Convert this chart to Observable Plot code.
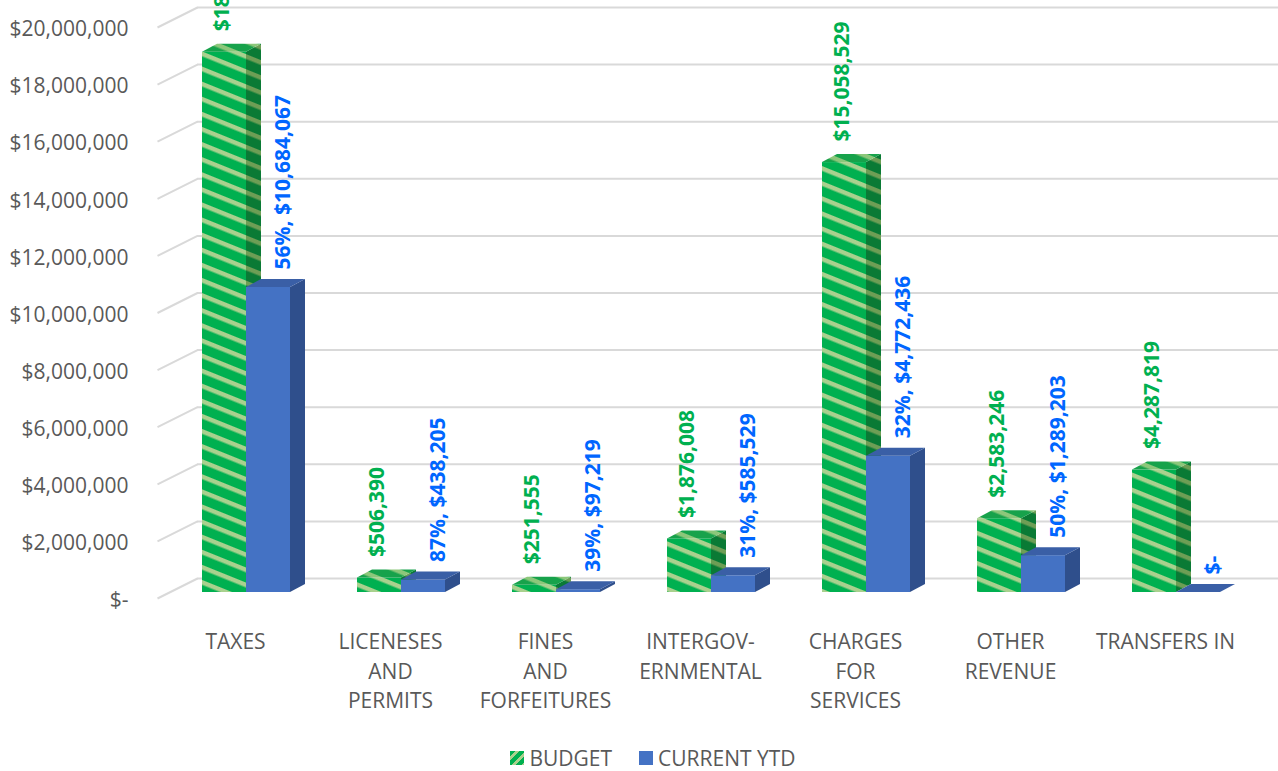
<!DOCTYPE html>
<html>
<head>
<meta charset="utf-8">
<script src="https://cdn.jsdelivr.net/npm/d3@7"></script>
<script src="https://cdn.jsdelivr.net/npm/@observablehq/plot@0.6"></script>
<style>
  html, body { margin: 0; padding: 0; background: #ffffff; }
  #wrap { position: relative; width: 1278px; height: 771px; overflow: hidden; font-family: "Open Sans", sans-serif; }
  #legend { position: absolute; left: 0; top: 744px; width: 1278px; box-sizing: border-box; padding-left: 28px;
            display: flex; justify-content: center; align-items: center; font-size: 21px; color: #595959; }
  .item { display: flex; align-items: center; }
  .item + .item { margin-left: 27px; }
  .sw { width: 14px; height: 14px; margin-right: 5px; }
</style>
</head>
<body>
<div id="wrap">
  <div id="chart"></div>
  <div id="legend"></div>
</div>
<script>
// ---------------- data ----------------
const categories = [
  "TAXES",
  "LICENESES\nAND\nPERMITS",
  "FINES\nAND\nFORFEITURES",
  "INTERGOV-\nERNMENTAL",
  "CHARGES\nFOR\nSERVICES",
  "OTHER\nREVENUE",
  "TRANSFERS IN"
];
const seriesNames = ["BUDGET", "CURRENT YTD"];
const budget     = [18925000, 506390, 251555, 1876008, 15058529, 2583246, 4287819];
const currentYTD = [10684067, 438205,  97219,  585529,  4772436, 1289203,       0];
const yTicks = [0, 2e6, 4e6, 6e6, 8e6, 10e6, 12e6, 14e6, 16e6, 18e6, 20e6];

// ---------------- layout / style ----------------
const W = 1278, H = 735;
const X_DOMAIN = [-0.5, categories.length - 0.5];
const X_RANGE = [168.5, 1253.5];
const Y_DOMAIN = [0, 20e6];
const Y_RANGE = [592, 21];
const xPerPx = (X_DOMAIN[1] - X_DOMAIN[0]) / (X_RANGE[1] - X_RANGE[0]);
const yPerPx = (Y_DOMAIN[1] - Y_DOMAIN[0]) / (Y_RANGE[0] - Y_RANGE[1]);
const barW = 44 * xPerPx;      // front face width
const depX = 15 * xPerPx;      // 3-D depth (horizontal)
const depY = 8 * yPerPx;       // 3-D depth (vertical)

const gridColor = "#d9d9d9";
const textColor = "#595959";
const greenLabel = "#00B050";
const blueLabel = "#0066FF";

const fmtMoney = v => v === 0 ? "$-" : "$" + d3.format(",")(v);

// build geometry from the data
function bars(values, s) {
  return values.map((v, i) => {
    const l = i - barW + s * barW;
    return { i, s, v, l, r: l + barW, cx: l + barW / 2, budget: budget[i] };
  });
}
const budgetBars = bars(budget, 0);
const currentBars = bars(currentYTD, 1);

function sides(rows) {
  const out = [];
  rows.forEach((d, k) => {
    out.push({ id: k, x: d.r,        y1: 0,    y2: d.v });
    out.push({ id: k, x: d.r + depX, y1: depY, y2: d.v + depY });
  });
  return out;
}
function tops(rows) {
  const out = [];
  rows.forEach((d, k) => {
    out.push({ id: k, x: d.l,        y1: d.v,        y2: d.v });
    out.push({ id: k, x: d.l + depX, y1: d.v,        y2: d.v + depY });
    out.push({ id: k, x: d.r,        y1: d.v,        y2: d.v + depY });
    out.push({ id: k, x: d.r + depX, y1: d.v + depY, y2: d.v + depY });
  });
  return out;
}

const chart = Plot.plot({
  width: W,
  height: H,
  marginLeft: 197,
  marginRight: 0,
  marginTop: 21,
  marginBottom: H - 592,
  style: { fontFamily: "Open Sans, sans-serif", fontSize: "21px", color: textColor, background: "#ffffff", overflow: "visible" },
  x: { type: "linear", domain: X_DOMAIN, range: X_RANGE, axis: null },
  y: { domain: Y_DOMAIN, range: Y_RANGE, axis: null, label: null },
  marks: [
    // back-wall gridlines + perspective stubs
    Plot.ruleY(yTicks, { y: d => d, dy: -14, stroke: gridColor, strokeWidth: 2 }),
    Plot.link(yTicks, {
      x1: () => X_DOMAIN[0] - 11.5 * xPerPx,
      x2: () => X_DOMAIN[0] + 28.5 * xPerPx,
      y1: d => d - 6 * yPerPx,
      y2: d => d + 14 * yPerPx,
      stroke: gridColor, strokeWidth: 2
    }),
    Plot.axisY({ ticks: yTicks, tickFormat: fmtMoney, tickSize: 0, tickPadding: 69, dy: 8, label: null, fontSize: 21 }),
    Plot.axisX({ ticks: d3.range(categories.length), tickFormat: i => categories[i], tickSize: 0, tickPadding: 36,
                 dx: -11, lineHeight: 1.4, label: null, fontSize: 21 }),

    // BUDGET bars (striped)
    Plot.rect(budgetBars, { x1: "l", x2: "r", y1: 0, y2: "v", fill: "url(#gFront)" }),
    Plot.area(sides(budgetBars), { x1: "x", y1: "y1", y2: "y2", z: "id", fill: "url(#gSide)", curve: "linear" }),
    Plot.area(tops(budgetBars), { x1: "x", y1: "y1", y2: "y2", z: "id", fill: "url(#gTop)", curve: "linear" }),

    // CURRENT YTD bars
    Plot.rect(currentBars, { x1: "l", x2: "r", y1: 0, y2: "v", fill: "#4472C4" }),
    Plot.area(sides(currentBars), { x1: "x", y1: "y1", y2: "y2", z: "id", fill: "#2F4F8C", curve: "linear" }),
    Plot.area(tops(currentBars), { x1: "x", y1: "y1", y2: "y2", z: "id", fill: "#3A5FA6", curve: "linear" }),

    // data labels
    Plot.text(budgetBars, { x: "cx", y: "v", text: d => fmtMoney(d.v), rotate: -90, textAnchor: "start",
                            dx: -2, dy: -21, fill: greenLabel, fontWeight: "bold", fontSize: 21 }),
    Plot.text(currentBars, { x: "cx", y: "v",
                             text: d => d.v === 0 ? "$-" : `${Math.round(d.v / d.budget * 100)}%, ${fmtMoney(d.v)}`,
                             rotate: -90, textAnchor: "start",
                             dx: 15, dy: -18, fill: blueLabel, fontWeight: "bold", fontSize: 21 })
  ]
});

// patterns for the striped budget bars
const NS = "http://www.w3.org/2000/svg";
function el(tag, attrs, parent) {
  const e = document.createElementNS(NS, tag);
  for (const k in attrs) e.setAttribute(k, attrs[k]);
  if (parent) parent.appendChild(e);
  return e;
}
const defs = el("defs", {});
function stripes(id, base, stripe) {
  const p = el("pattern", { id, patternUnits: "userSpaceOnUse", width: 14, height: 14, patternTransform: "rotate(22)" }, defs);
  el("rect", { width: 14, height: 14, fill: base }, p);
  el("rect", { width: 14, height: 4.5, fill: stripe }, p);
}
stripes("gFront", "#00B050", "#A9D18E");
stripes("gSide", "#0A7A35", "#6E9E55");
stripes("gTop", "#17A24B", "#8CC77A");
chart.insertBefore(defs, chart.firstChild);

document.getElementById("chart").appendChild(chart);

// legend
const legend = document.getElementById("legend");
const swatches = [
  "repeating-linear-gradient(135deg, #00B050 0px, #00B050 4px, #A9D18E 4px, #A9D18E 7px)",
  "#4472C4"
];
seriesNames.forEach((name, k) => {
  const item = document.createElement("div");
  item.className = "item";
  const sw = document.createElement("div");
  sw.className = "sw";
  sw.style.background = swatches[k];
  const t = document.createElement("span");
  t.textContent = name;
  item.appendChild(sw);
  item.appendChild(t);
  legend.appendChild(item);
});
</script>
</body>
</html>
